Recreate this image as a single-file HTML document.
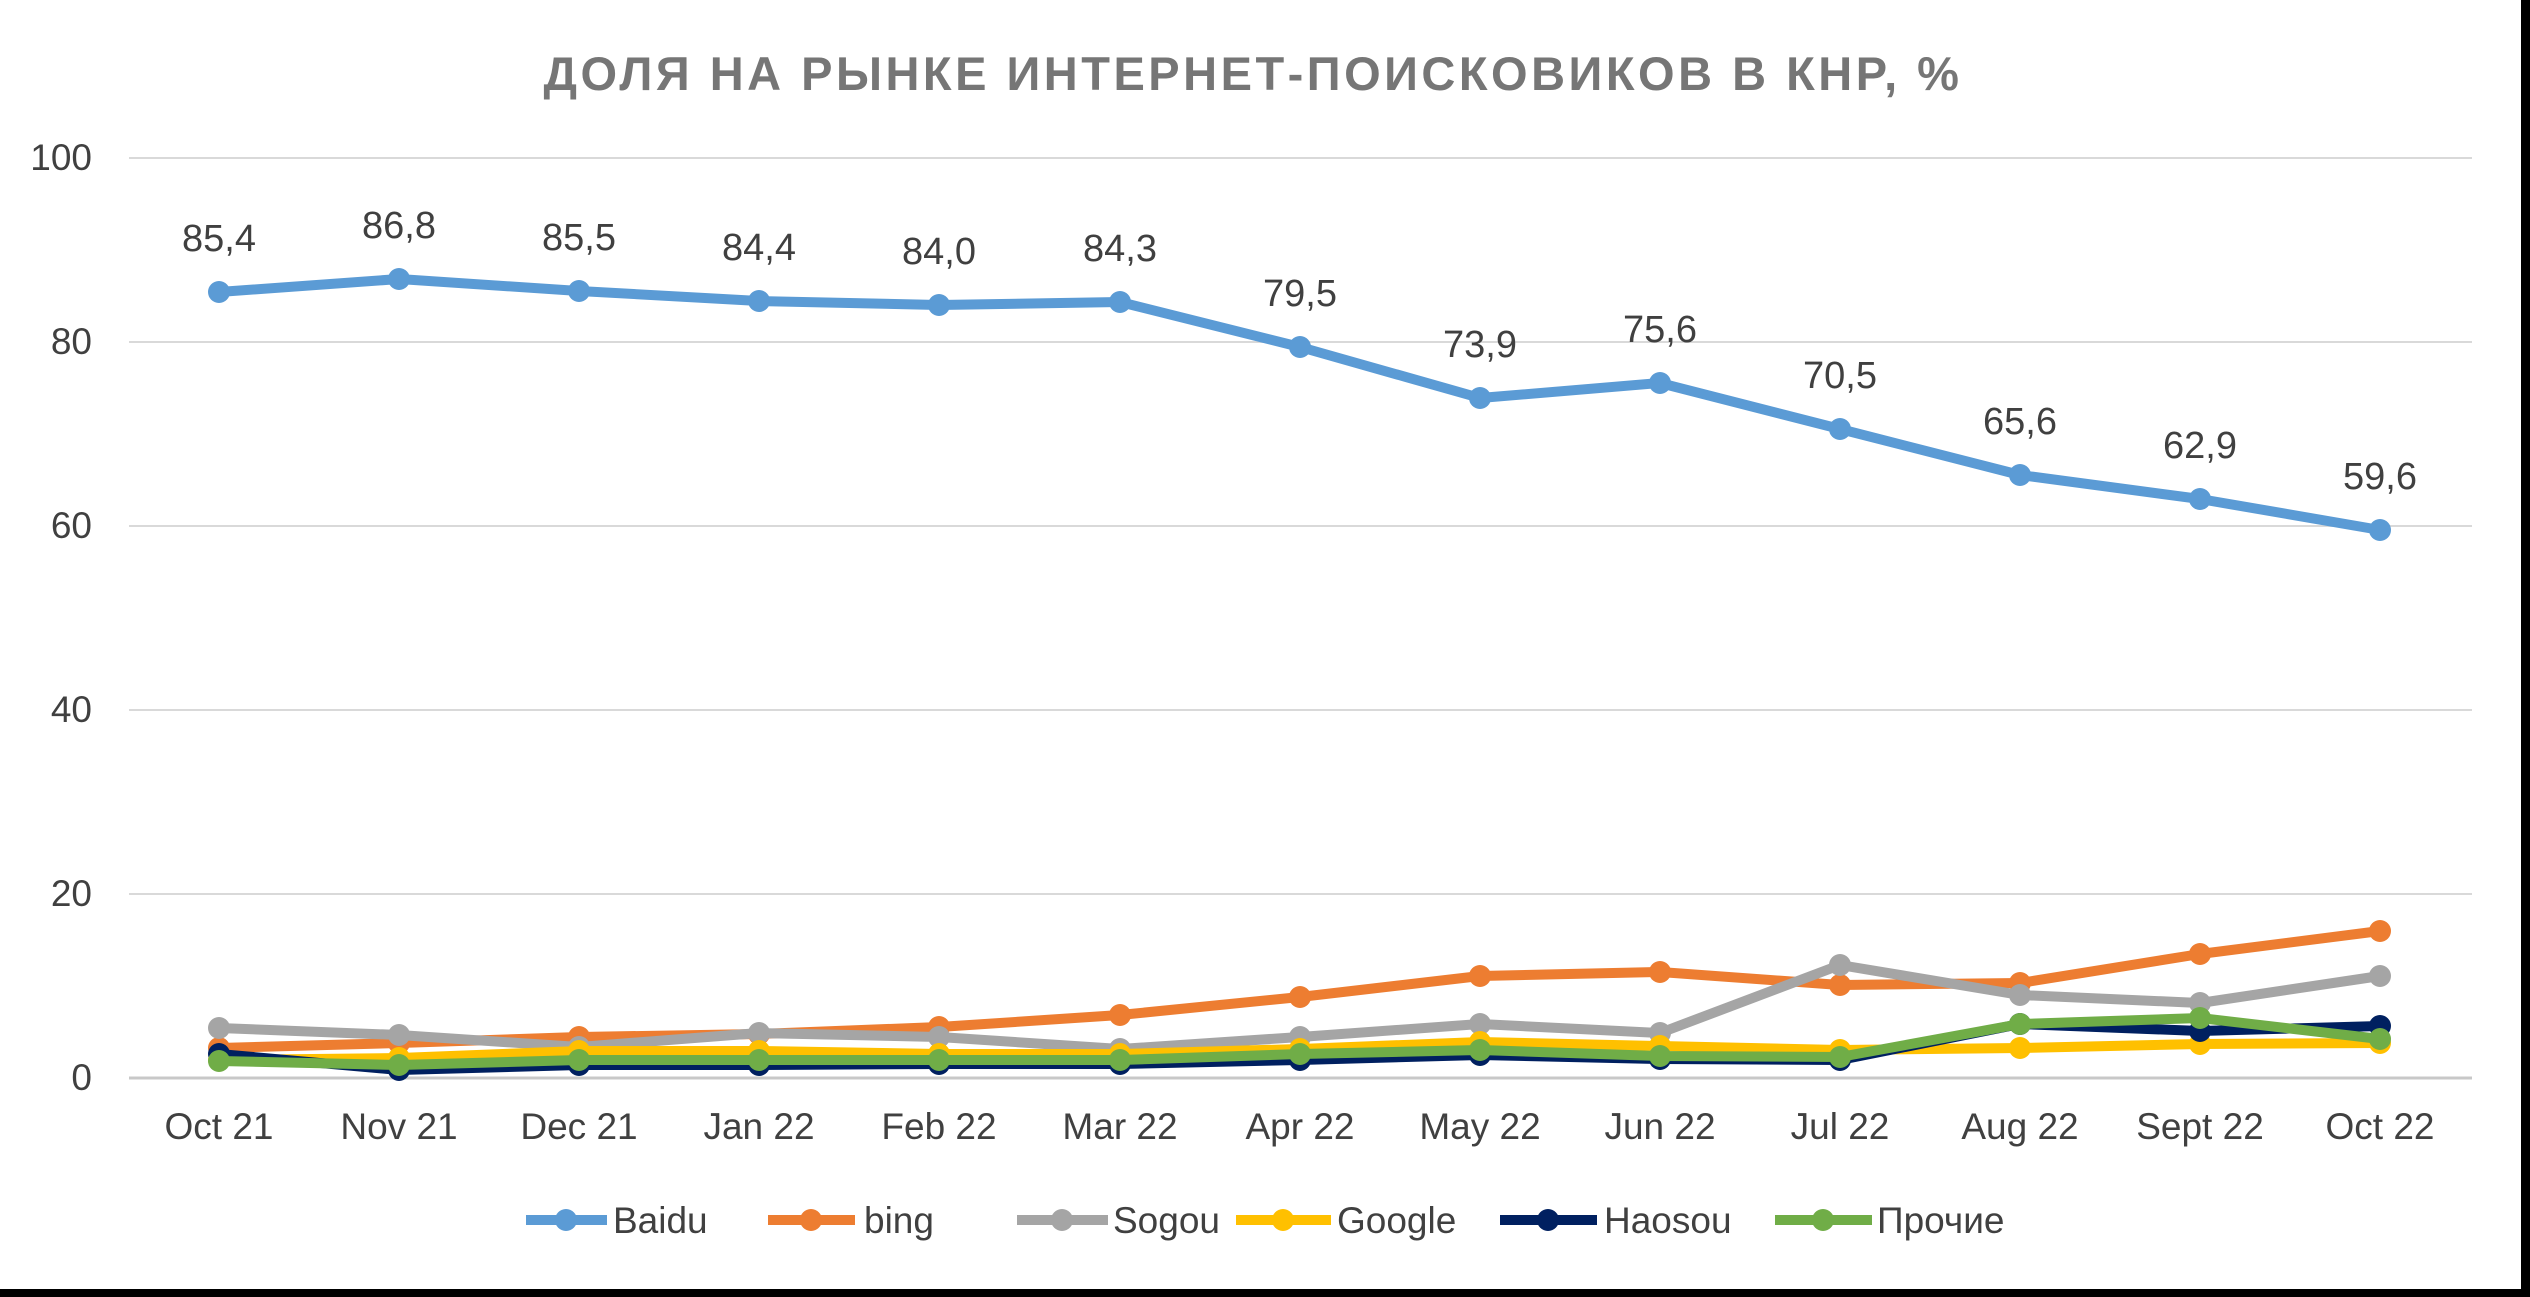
<!DOCTYPE html>
<html><head><meta charset="utf-8"><style>
html,body{margin:0;padding:0;background:#000;}
svg{display:block;font-family:"Liberation Sans","DejaVu Sans",sans-serif;}
</style></head><body>
<svg width="2530" height="1297" xmlns="http://www.w3.org/2000/svg">
<defs>
<marker id="mb" markerUnits="userSpaceOnUse" markerWidth="30" markerHeight="30" refX="15" refY="15"><circle cx="15" cy="15" r="11" fill="#5b9bd5"/></marker>
<marker id="mo" markerUnits="userSpaceOnUse" markerWidth="30" markerHeight="30" refX="15" refY="15"><circle cx="15" cy="15" r="11" fill="#ed7d31"/></marker>
<marker id="mg" markerUnits="userSpaceOnUse" markerWidth="30" markerHeight="30" refX="15" refY="15"><circle cx="15" cy="15" r="11" fill="#a5a5a5"/></marker>
<marker id="my" markerUnits="userSpaceOnUse" markerWidth="30" markerHeight="30" refX="15" refY="15"><circle cx="15" cy="15" r="11" fill="#ffc000"/></marker>
<marker id="mn" markerUnits="userSpaceOnUse" markerWidth="30" markerHeight="30" refX="15" refY="15"><circle cx="15" cy="15" r="11" fill="#002060"/></marker>
<marker id="mv" markerUnits="userSpaceOnUse" markerWidth="30" markerHeight="30" refX="15" refY="15"><circle cx="15" cy="15" r="11" fill="#70ad47"/></marker>
</defs>
<rect x="0" y="0" width="2521" height="1289" fill="#fff"/>
<text x="1253" y="90" text-anchor="middle" font-size="47" font-weight="bold" fill="#767676" letter-spacing="3.5">ДОЛЯ НА РЫНКЕ ИНТЕРНЕТ-ПОИСКОВИКОВ В КНР, %</text>
<g stroke="#d9d9d9" stroke-width="2">
<line x1="129" y1="158" x2="2472" y2="158"/><line x1="129" y1="342" x2="2472" y2="342"/><line x1="129" y1="526" x2="2472" y2="526"/><line x1="129" y1="710" x2="2472" y2="710"/><line x1="129" y1="894" x2="2472" y2="894"/><line x1="129" y1="1078" x2="2472" y2="1078" stroke="#c8c8c8" stroke-width="3"/>
</g>
<g font-size="37" fill="#404040" text-anchor="end">
<text x="92" y="170">100</text><text x="92" y="354">80</text><text x="92" y="538">60</text><text x="92" y="722">40</text><text x="92" y="906">20</text><text x="92" y="1090">0</text>
</g>
<g font-size="37" fill="#404040" text-anchor="middle">
<text x="219" y="1139">Oct 21</text><text x="399" y="1139">Nov 21</text><text x="579" y="1139">Dec 21</text><text x="759" y="1139">Jan 22</text><text x="939" y="1139">Feb 22</text><text x="1120" y="1139">Mar 22</text><text x="1300" y="1139">Apr 22</text><text x="1480" y="1139">May 22</text><text x="1660" y="1139">Jun 22</text><text x="1840" y="1139">Jul 22</text><text x="2020" y="1139">Aug 22</text><text x="2200" y="1139">Sept 22</text><text x="2380" y="1139">Oct 22</text>
</g>
<g fill="none" stroke-width="10" stroke-linejoin="round">
<polyline stroke="#5b9bd5" marker-start="url(#mb)" marker-mid="url(#mb)" marker-end="url(#mb)" points="219,292 399,279 579,291 759,301 939,305 1120,302 1300,347 1480,398 1660,383 1840,429 2020,475 2200,499 2380,530"/>
<polyline stroke="#ed7d31" marker-start="url(#mo)" marker-mid="url(#mo)" marker-end="url(#mo)" points="219,1048 399,1043 579,1037 759,1034 939,1027 1120,1015 1300,997 1480,976 1660,972 1840,985 2020,983 2200,954 2380,931"/>
<polyline stroke="#a5a5a5" marker-start="url(#mg)" marker-mid="url(#mg)" marker-end="url(#mg)" points="219,1028 399,1035 579,1047 759,1033 939,1037 1120,1049 1300,1037 1480,1024 1660,1033 1840,965 2020,995 2200,1003 2380,976"/>
<polyline stroke="#ffc000" marker-start="url(#my)" marker-mid="url(#my)" marker-end="url(#my)" points="219,1060 399,1058 579,1051 759,1051 939,1054 1120,1054 1300,1049 1480,1042 1660,1046 1840,1050 2020,1048 2200,1044 2380,1043"/>
<polyline stroke="#002060" marker-start="url(#mn)" marker-mid="url(#mn)" marker-end="url(#mn)" points="219,1054 399,1070 579,1065 759,1065 939,1064 1120,1064 1300,1060 1480,1055 1660,1059 1840,1060 2020,1024 2200,1031 2380,1026"/>
<polyline stroke="#70ad47" marker-start="url(#mv)" marker-mid="url(#mv)" marker-end="url(#mv)" points="219,1061 399,1065 579,1060 759,1060 939,1060 1120,1060 1300,1054 1480,1050 1660,1056 1840,1057 2020,1024 2200,1018 2380,1039"/>
</g>
<g font-size="38" fill="#404040" text-anchor="middle">
<text x="219" y="251">85,4</text><text x="399" y="238">86,8</text><text x="579" y="250">85,5</text><text x="759" y="260">84,4</text><text x="939" y="264">84,0</text><text x="1120" y="261">84,3</text><text x="1300" y="306">79,5</text><text x="1480" y="357">73,9</text><text x="1660" y="342">75,6</text><text x="1840" y="388">70,5</text><text x="2020" y="434">65,6</text><text x="2200" y="458">62,9</text><text x="2380" y="489">59,6</text>
</g>
<g stroke-width="10">
<line x1="526" y1="1220" x2="607" y2="1220" stroke="#5b9bd5"/><circle cx="566" cy="1220" r="11" fill="#5b9bd5"/>
<line x1="768" y1="1220" x2="855" y2="1220" stroke="#ed7d31"/><circle cx="811" cy="1220" r="11" fill="#ed7d31"/>
<line x1="1017" y1="1220" x2="1108" y2="1220" stroke="#a5a5a5"/><circle cx="1062" cy="1220" r="11" fill="#a5a5a5"/>
<line x1="1236" y1="1220" x2="1331" y2="1220" stroke="#ffc000"/><circle cx="1283" cy="1220" r="11" fill="#ffc000"/>
<line x1="1500" y1="1220" x2="1597" y2="1220" stroke="#002060"/><circle cx="1548" cy="1220" r="11" fill="#002060"/>
<line x1="1775" y1="1220" x2="1872" y2="1220" stroke="#70ad47"/><circle cx="1823" cy="1220" r="11" fill="#70ad47"/>
</g>
<g font-size="37" fill="#404040">
<text x="613" y="1233">Baidu</text><text x="864" y="1233">bing</text><text x="1113" y="1233">Sogou</text><text x="1337" y="1233">Google</text><text x="1604" y="1233">Haosou</text><text x="1877" y="1233">Прочие</text>
</g>
</svg>
</body></html>
